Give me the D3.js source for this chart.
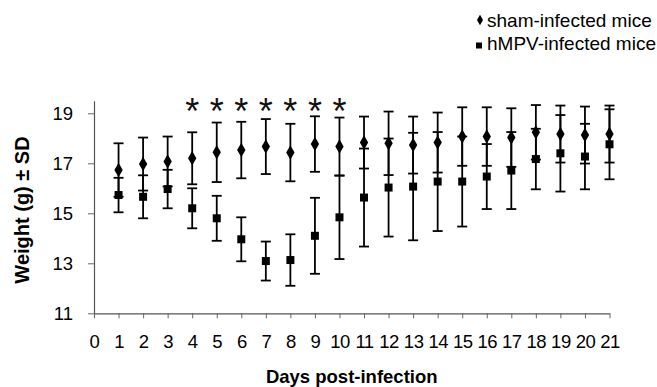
<!DOCTYPE html>
<html>
<head>
<meta charset="utf-8">
<script src="https://cdn.jsdelivr.net/npm/d3@7"></script>
<style>
  body { margin: 0; background: #fff; }
  svg { display: block; font-family: "Liberation Sans", Arial, sans-serif; }
</style>
</head>
<body>
<div id="chart"></div>
<script>
// Data
const days = [1, 2, 3, 4, 5, 6, 7, 8, 9, 10, 11, 12, 13, 14, 15, 16, 17, 18, 19, 20, 21];
const shamMean = [16.73, 16.97, 17.07, 17.2, 17.44, 17.53, 17.67, 17.43, 17.77, 17.67, 17.83, 17.8, 17.73, 17.83, 18.07, 18.07, 18.03, 18.24, 18.17, 18.13, 18.17];
const shamSD = [1.07, 1.06, 1.0, 1.04, 1.19, 1.13, 1.1, 1.15, 1.11, 1.16, 1.04, 1.27, 1.14, 1.2, 1.17, 1.17, 1.17, 1.09, 1.14, 1.14, 1.14];
const hmpvMean = [15.73, 15.66, 15.97, 15.2, 14.8, 13.96, 13.09, 13.13, 14.1, 14.84, 15.63, 16.03, 16.07, 16.27, 16.27, 16.47, 16.71, 17.17, 17.4, 17.27, 17.76];
const hmpvSD = [0.69, 0.86, 0.77, 0.8, 0.9, 0.88, 0.78, 1.03, 1.52, 1.67, 1.96, 1.96, 2.15, 1.98, 1.8, 1.3, 1.54, 1.21, 1.53, 1.31, 1.4];
const starDays = [4, 5, 6, 7, 8, 9, 10];
const xTicks = d3.range(0, 22);
const yTicks = [11, 13, 15, 17, 19];
const seriesNames = ["sham-infected mice", "hMPV-infected mice"];

const width = 657, height = 387;

const svg = d3.select("#chart").append("svg")
    .attr("width", width)
    .attr("height", height);

const x = d3.scaleLinear().domain([0, 21]).range([94, 609.5]);
const y = d3.scaleLinear().domain([11, 19.5]).range([313.3, 100.8]);

// axes
const xAxis = svg.append("g")
    .attr("transform", `translate(0,${y(11)})`)
    .call(d3.axisBottom(x).tickValues(xTicks).tickSize(5).tickPadding(17).tickSizeOuter(0));
const yAxis = svg.append("g")
    .attr("transform", `translate(${x(0)},0)`)
    .call(d3.axisLeft(y).tickValues(yTicks).tickSize(6).tickPadding(15).tickSizeOuter(0));

[xAxis, yAxis].forEach(g => {
    g.select(".domain").attr("stroke", "#555").attr("stroke-width", 1.2);
    g.selectAll(".tick line").attr("stroke", "#666");
    g.selectAll(".tick text")
        .attr("fill", "#000")
        .attr("font-size", 18.5)
        .attr("font-family", "'Liberation Sans', Arial, sans-serif");
});
xAxis.selectAll(".tick text").attr("letter-spacing", -0.5);

// axis titles
svg.append("text")
    .attr("x", (x(0) + x(21)) / 2)
    .attr("y", 383)
    .attr("text-anchor", "middle")
    .attr("font-size", 18.5)
    .attr("font-weight", "bold")
    .text("Days post-infection");

svg.append("text")
    .attr("transform", `translate(29,210) rotate(-90)`)
    .attr("text-anchor", "middle")
    .attr("font-size", 20)
    .attr("font-weight", "bold")
    .text("Weight (g) ± SD");

// error bars
const series = [
    { mean: shamMean, sd: shamSD, symbol: d3.symbolDiamond, size: 60 },
    { mean: hmpvMean, sd: hmpvSD, symbol: d3.symbolSquare, size: 64 }
];

const bars = svg.append("g").attr("stroke", "#000").attr("stroke-width", 1.8);
series.forEach(s => {
    days.forEach((d, i) => {
        const lo = y(s.mean[i] - s.sd[i]);
        const hi = y(s.mean[i] + s.sd[i]);
        bars.append("line").attr("x1", x(d)).attr("x2", x(d)).attr("y1", lo).attr("y2", hi);
        bars.append("line").attr("x1", x(d) - 5).attr("x2", x(d) + 5).attr("y1", lo).attr("y2", lo);
        bars.append("line").attr("x1", x(d) - 5).attr("x2", x(d) + 5).attr("y1", hi).attr("y2", hi);
    });
});

// markers
series.forEach(s => {
    svg.append("g").selectAll("path")
        .data(days)
        .enter()
        .append("path")
        .attr("transform", (d, i) => `translate(${x(d)},${y(s.mean[i])})`)
        .attr("d", d3.symbol().type(s.symbol).size(s.size))
        .attr("fill", "#000");
});

// significance stars
svg.append("g").selectAll("text")
    .data(starDays)
    .enter()
    .append("text")
    .attr("x", d => x(d))
    .attr("y", 124)
    .attr("text-anchor", "middle")
    .attr("font-size", 36)
    .attr("fill", "#111")
    .text("*");

// legend
const legend = svg.append("g");
legend.append("path")
    .attr("transform", "translate(480,20)")
    .attr("d", d3.symbol().type(d3.symbolDiamond).size(32))
    .attr("fill", "#000");
legend.append("path")
    .attr("transform", "translate(479,45.5)")
    .attr("d", d3.symbol().type(d3.symbolSquare).size(36))
    .attr("fill", "#000");
legend.selectAll("text")
    .data(seriesNames)
    .enter()
    .append("text")
    .attr("x", 487)
    .attr("y", (d, i) => 26.7 + i * 23.3)
    .attr("font-size", 19)
    .attr("fill", "#000")
    .text(d => d);
</script>
</body>
</html>
